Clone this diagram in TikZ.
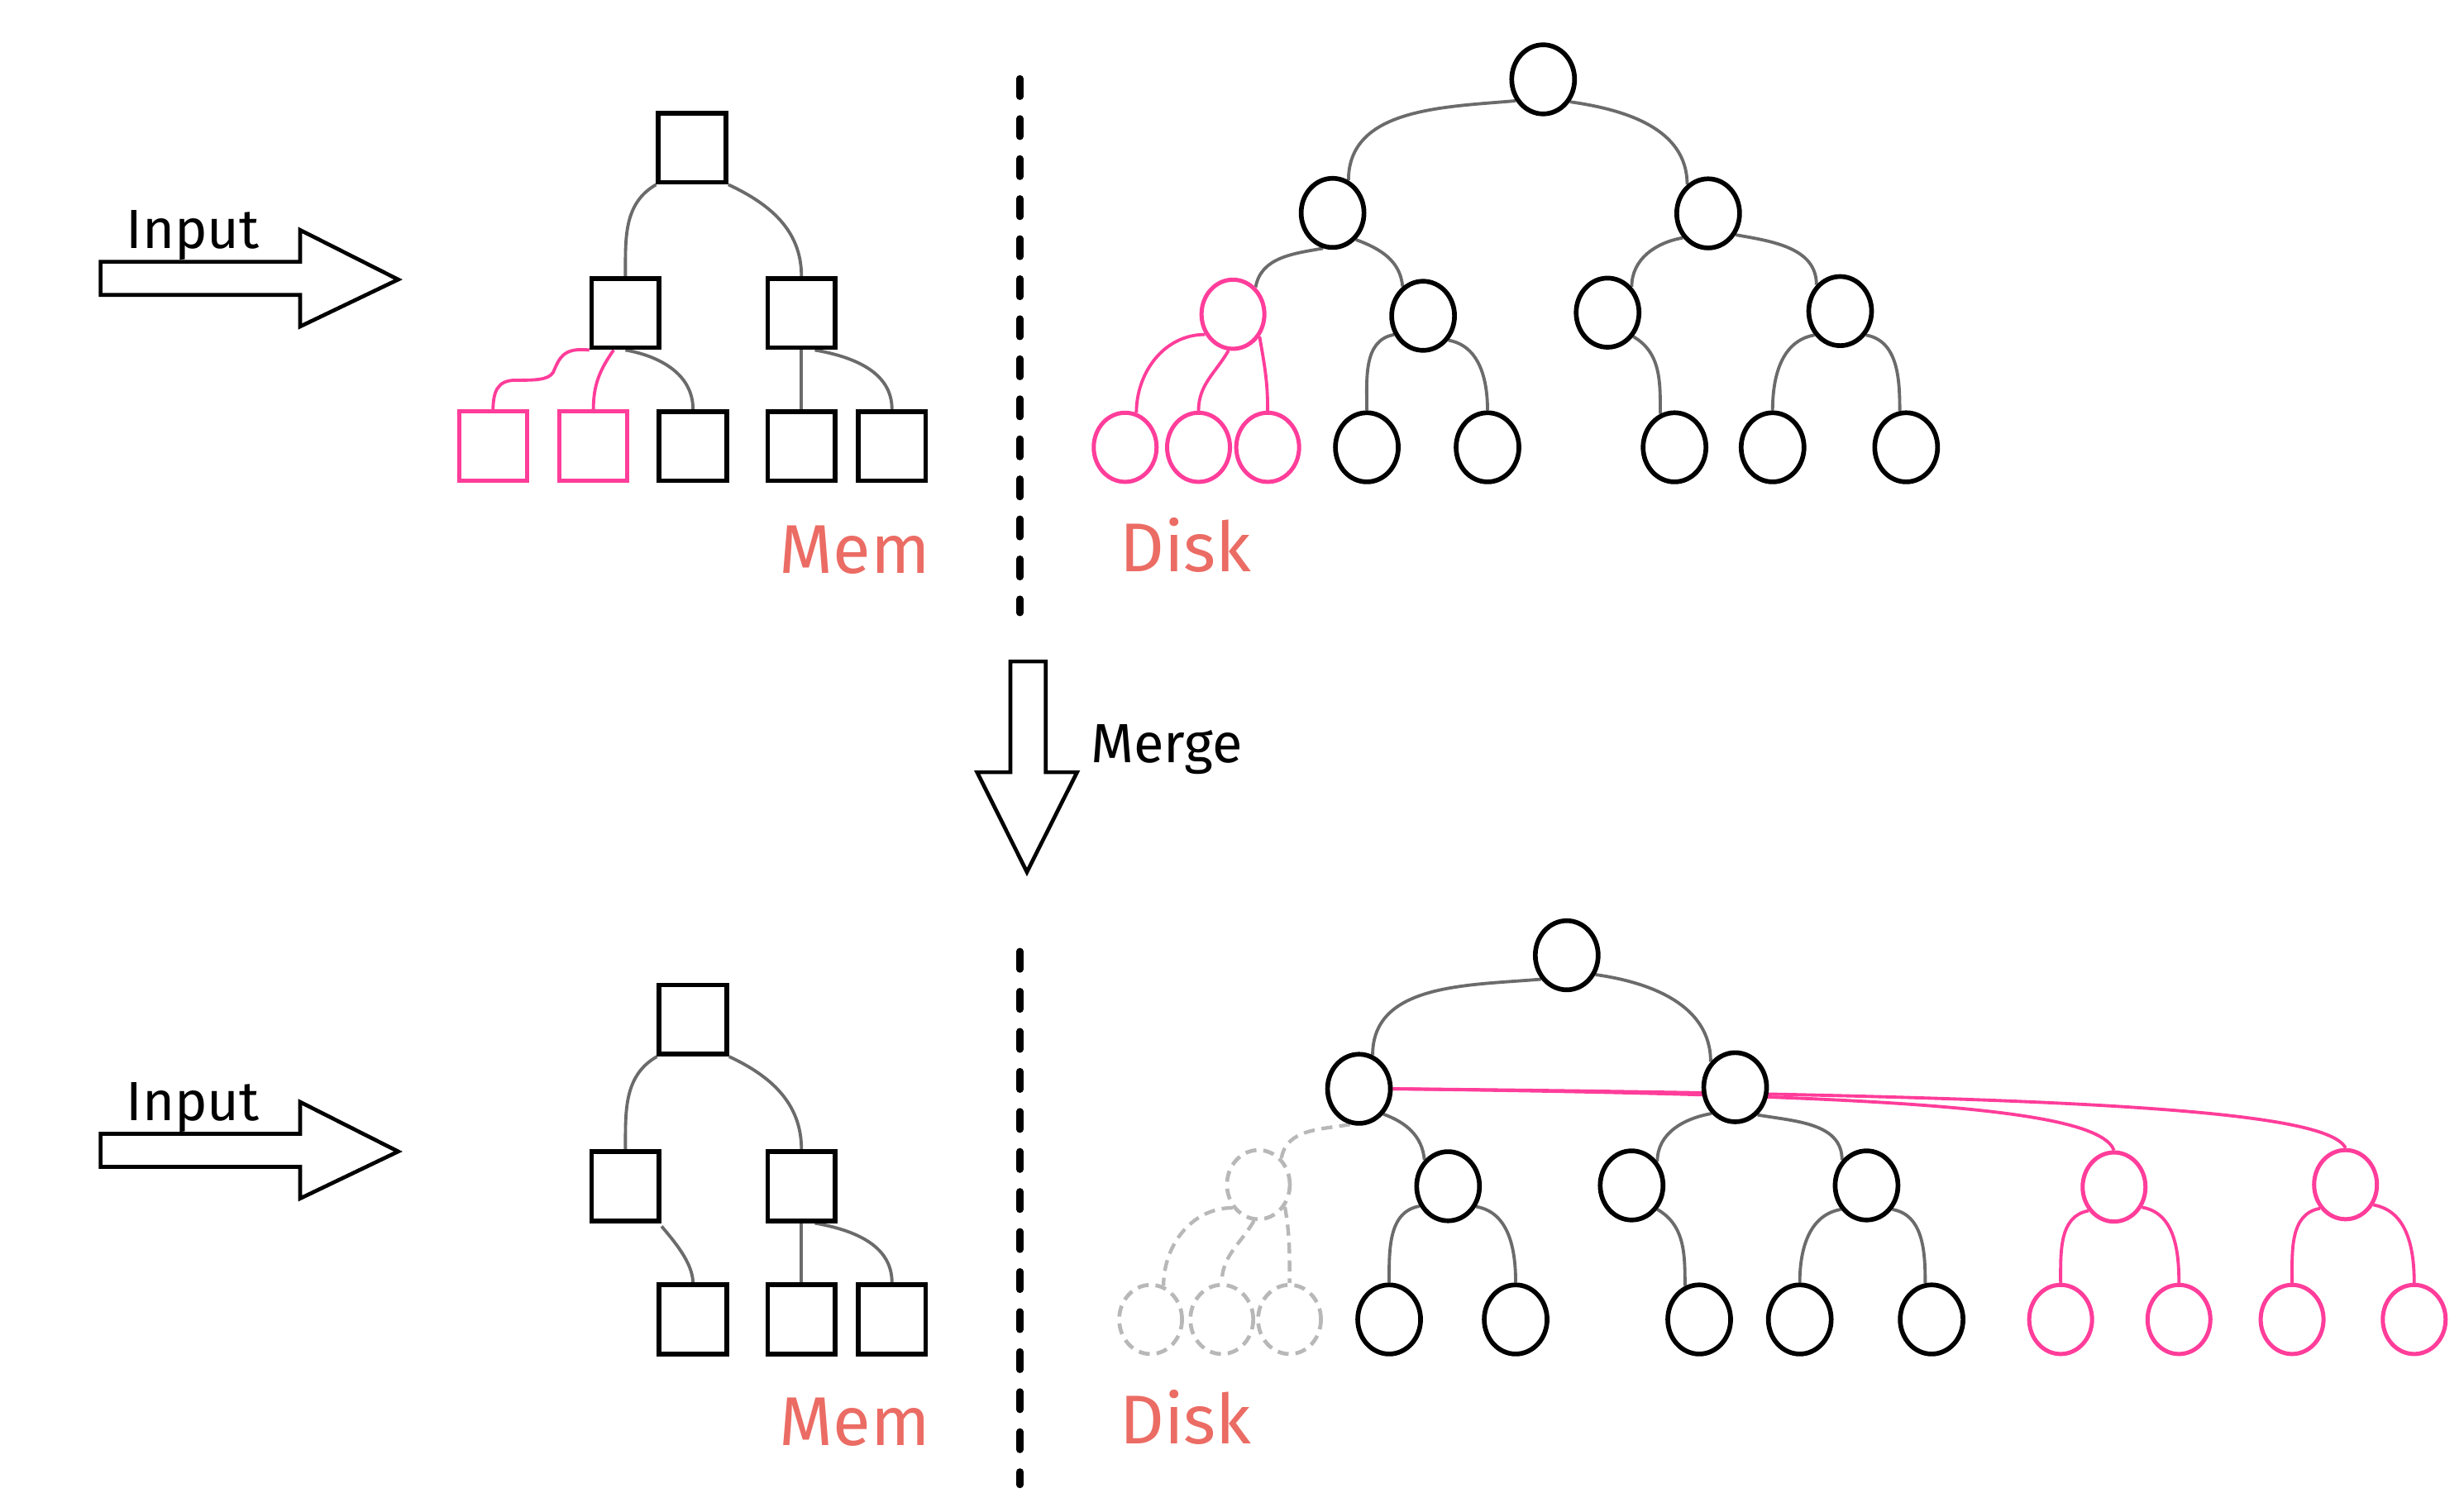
\documentclass[tikz,border=0pt]{standalone}
\usepackage{fontspec}
\newfontfamily\hand{Fira Sans}
\usetikzlibrary{shapes.geometric,backgrounds}
\definecolor{hot}{HTML}{FF3D9A}
\definecolor{salmon}{HTML}{EB6C64}
\definecolor{edgegray}{HTML}{6B6B6B}
\definecolor{ghost}{HTML}{B8B8B8}
\begin{document}
\begin{tikzpicture}[x=0.2mm, y=-0.2mm,
  sq/.style={draw, rectangle, line width=1.7pt, fill=white, inner sep=0pt, minimum width=8.6mm, minimum height=8.8mm},
  rd/.style={draw, ellipse, line width=1.7pt, fill=white, inner sep=0pt, minimum width=8mm, minimum height=8.8mm},
  new/.style={draw=hot, line width=1.5pt},
  old/.style={draw=ghost, line width=1.4pt, dash pattern=on 4pt off 2.5pt},
  wire/.style={draw=edgegray, line width=1.15pt},
  link/.style={draw=hot, line width=1.15pt},
  gone/.style={draw=ghost, line width=1.3pt, dash pattern=on 4pt off 2.5pt},
  lt/.style={out=190, in=90},
  rt/.style={out=-10, in=90},
  fat/.style={draw, line width=1.4pt, fill=white},
  sep/.style={line width=2.5pt, line cap=round, dash pattern=on 6.5pt off 8pt},
  word/.style={font=\hand\fontsize{20}{24}\selectfont, anchor=base},
  tag/.style={font=\hand\fontsize{25}{30}\selectfont, text=salmon, anchor=base},
  ]
\useasboundingbox (0,0) rectangle (1568,962);

% input arrows and merge arrow
\draw[fat] (64,166.6) -- (191,166.6) -- (191,146.4) -- (253.4,177.9) -- (191,207.8) -- (191,187.7) -- (64,187.7) -- cycle;
\node[word] (tin) at (122.7,158) {Input};
\draw[fat] (64,721.6) -- (191,721.6) -- (191,701.4) -- (253.4,732.9) -- (191,762.8) -- (191,742.7) -- (64,742.7) -- cycle;
\node[word] (bin) at (122.7,713) {Input};
\draw[fat] (643,421) -- (665.5,421) -- (665.5,491.5) -- (685.4,491.5) -- (653.5,555) -- (621.8,491.5) -- (643,491.5) -- cycle;
\node[word, anchor=base west] (merge) at (688,485.5) {Merge};

% separators
\draw[sep] (649,50) -- (649,390);
\draw[sep] (649,605.5) -- (649,945);

\node[tag] (tmem) at (544,365) {Mem};
\node[tag] (tdisk) at (754.5,364) {Disk};
\node[tag] (bmem) at (544,920) {Mem};
\node[tag] (bdisk) at (754.5,919) {Disk};

% top, memory
\node[sq] (tm0) at (440.5,94) {};
\node[sq] (tm1) at (398,199.3) {};
\node[sq] (tm2) at (510,199.3) {};
\node[sq,new] (tm3) at (313.7,284) {};
\node[sq,new] (tm4) at (377.6,284) {};
\node[sq] (tm5) at (441,284) {};
\node[sq] (tm6) at (510,284) {};
\node[sq] (tm7) at (567.6,284) {};

% top, disk
\node[rd] (td0) at (982,50.5) {};
\node[rd] (td1) at (848,135.5) {};
\node[rd] (td2) at (1087,135.8) {};
\node[rd,new] (td3) at (784.6,200) {};
\node[rd] (td4) at (905.6,201) {};
\node[rd] (td5) at (1023,199) {};
\node[rd] (td6) at (1171,198) {};
\node[rd,new] (td7) at (716,284.7) {};
\node[rd,new] (td8) at (762.7,284.7) {};
\node[rd,new] (td9) at (806.7,284.7) {};
\node[rd] (td10) at (869.8,284.7) {};
\node[rd] (td11) at (946.6,284.7) {};
\node[rd] (td12) at (1065.6,284.7) {};
\node[rd] (td13) at (1128,284.7) {};
\node[rd] (td14) at (1213,284.7) {};

% bottom, memory
\node[sq] (bm0) at (441,649) {};
\node[sq] (bm1) at (398,755) {};
\node[sq] (bm2) at (510,755) {};
\node[sq] (bm3) at (441,839.7) {};
\node[sq] (bm4) at (510,839.7) {};
\node[sq] (bm5) at (567.6,839.7) {};

% bottom, disk
\node[rd] (bd0) at (997,608) {};
\node[rd] (bd1) at (864.8,693) {};
\node[rd] (bd2) at (1104.2,692) {};
\node[rd,old] (bd3) at (800.8,754) {};
\node[rd] (bd4) at (921.5,755) {};
\node[rd] (bd5) at (1038.3,754.5) {};
\node[rd] (bd6) at (1187.8,754.5) {};
\node[rd,new] (bd7) at (1345.3,755.5) {};
\node[rd,new] (bd8) at (1492.6,754) {};
\node[rd,old] (bd9) at (732.2,839.8) {};
\node[rd,old] (bd10) at (777.5,839.8) {};
\node[rd,old] (bd11) at (820.6,839.8) {};
\node[rd] (bd12) at (884,839.8) {};
\node[rd] (bd13) at (964.5,839.8) {};
\node[rd] (bd14) at (1081.3,839.8) {};
\node[rd] (bd15) at (1145.3,839.8) {};
\node[rd] (bd16) at (1229.2,839.8) {};
\node[rd,new] (bd17) at (1311.3,839.8) {};
\node[rd,new] (bd18) at (1386.6,839.8) {};
\node[rd,new] (bd19) at (1458.6,839.8) {};
\node[rd,new] (bd20) at (1536.3,839.8) {};

\begin{scope}[on background layer]
\fill[white] (0,0) rectangle (1568,962);
% top memory links
\draw[wire] (tm0.south west) to[out=210,in=90] (tm1.north);
\draw[wire] (tm0.south east) to[out=-25,in=90] (tm2.north);
\draw[link] (tm1.south west) .. controls (358,221) and (356,228) .. (352,237) .. controls (349,242) and (340,242) .. (328,242) .. controls (316,242) and (314,250) .. (tm3.north);
\draw[link] ([xshift=-1.5mm]tm1.south) to[out=235,in=90] (tm4.north);
\draw[wire] (tm1.south) to[rt] (tm5.north);
\draw[wire] (tm2.south) -- (tm6.north);
\draw[wire] (tm2.290) to[rt] (tm7.north);
% top disk links
\draw[wire] (td0.218) to[out=185,in=90] (td1.64);
\draw[wire] (td0.320) to[out=-8,in=90] (td2.126);
\draw[wire] (td1.255) to[out=190,in=80] (td3.50);
\draw[wire] (td1.311) to[out=-20,in=95] (td4.125);
\draw[wire] (td2.224) to[lt] (td5.47);
\draw[wire] (td2.322) to[rt] (td6.132);
\draw[link] (td3.216) to[out=180,in=90] (td7.72);
\draw[link] (td3.263) to[out=240,in=90] (td8.north);
\draw[link] (td3.320) to[out=-80,in=90] (td9.north);
\draw[wire] (td4.213) to[lt] (td10.north);
\draw[wire] (td4.316) to[rt] (td11.north);
\draw[wire] (td5.317) to[out=-30,in=90] (td12.113);
\draw[wire] (td6.223) to[lt] (td13.north);
\draw[wire] (td6.317) to[rt] (td14.100);
% bottom memory links
\draw[wire] (bm0.south west) to[out=210,in=90] (bm1.north);
\draw[wire] (bm0.south east) to[out=-25,in=90] (bm2.north);
\draw[wire] ([yshift=-0.4mm]bm1.south east) to[out=-50,in=92,looseness=0.8] (bm3.north);
\draw[wire] (bm2.south) -- (bm4.north);
\draw[wire] (bm2.290) to[rt] (bm5.north);
% bottom disk links
\draw[wire] (bd0.223) to[out=185,in=90] (bd1.68);
\draw[wire] (bd0.326) to[out=-8,in=90] (bd2.134);
\draw[gone] (bd1.256) to[out=190,in=80] (bd3.49);
\draw[wire] (bd1.314) to[out=-20,in=95] (bd4.132);
\draw[wire] (bd2.228) to[lt] (bd5.43);
\draw[wire] (bd2.309) to[rt] (bd6.134);
\draw[link] (bd1.east) .. controls (1200,697) and (1335,705) .. (bd7.north);
\draw[link] (bd1.east) .. controls (1300,697) and (1480,705) .. (bd8.north);
\draw[gone] (bd3.222) to[out=180,in=90] (bd9.69);
\draw[gone] (bd3.263) to[out=240,in=90] (bd10.north);
\draw[gone] (bd3.320) to[out=-80,in=90] (bd11.north);
\draw[wire] (bd4.215) to[lt] (bd12.north);
\draw[wire] (bd4.324) to[rt] (bd13.north);
\draw[wire] (bd5.317) to[out=-30,in=90] (bd14.113);
\draw[wire] (bd6.223) to[lt] (bd15.north);
\draw[wire] (bd6.317) to[rt] (bd16.100);
\draw[link] (bd7.223) to[lt] (bd17.north);
\draw[link] (bd7.324) to[rt] (bd18.north);
\draw[link] (bd8.223) to[lt] (bd19.north);
\draw[link] (bd8.324) to[rt] (bd20.north);
\end{scope}
\end{tikzpicture}
\end{document}
